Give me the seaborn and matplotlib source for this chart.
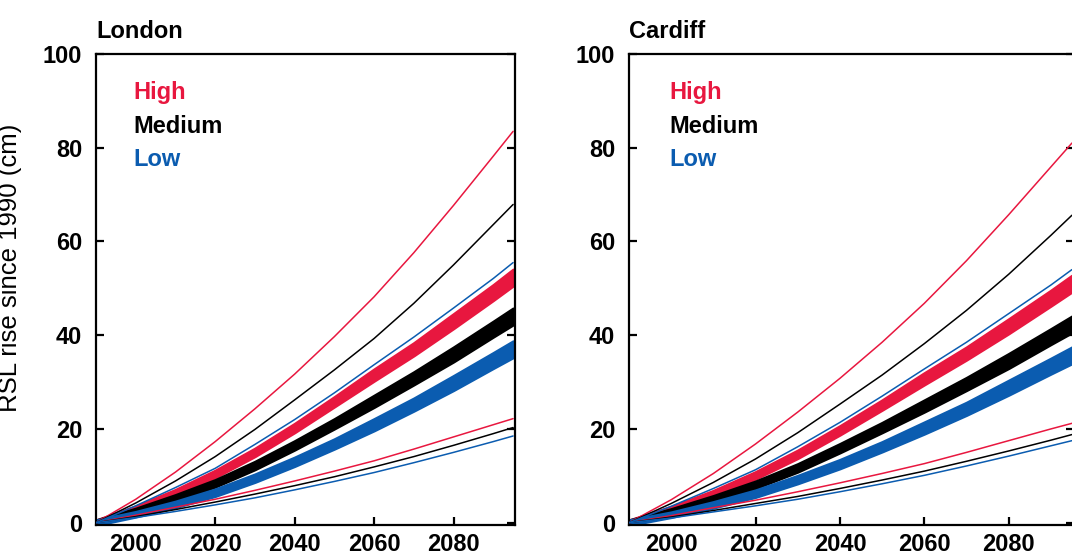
import matplotlib
matplotlib.use('Agg')
import matplotlib.pyplot as plt
import seaborn as sns

years = [1990, 2000, 2010, 2020, 2030, 2040, 2050, 2060, 2070, 2080, 2090, 2095]
# half width (cm) of the thick central bands
band_half = [0.5, 0.5, 0.6, 0.7, 0.8, 0.9, 1.0, 1.2, 1.3, 1.5, 1.6, 1.7]

# London
london_high_upper = [0, 5.0, 10.8, 17.3, 24.3, 31.7, 39.7, 48.2, 57.6, 67.7, 78.2, 83.5]
london_med_upper = [0, 4.2, 8.9, 14.1, 19.9, 26.2, 32.6, 39.3, 46.8, 55.0, 63.6, 67.9]
london_low_upper = [0, 3.6, 7.5, 11.6, 16.7, 22.0, 27.7, 33.7, 39.6, 45.8, 52.1, 55.5]
london_high_mid = [0, 3.0, 6.4, 10.4, 15.0, 20.2, 25.8, 31.5, 37.0, 43.0, 49.1, 52.3]
london_med_mid = [0, 2.5, 5.3, 8.4, 12.2, 16.5, 21.1, 25.9, 30.8, 35.9, 41.3, 44.0]
london_low_mid = [0, 1.8, 3.9, 6.4, 9.5, 13.0, 16.8, 20.9, 25.2, 29.8, 34.6, 37.0]
london_high_lower = [0, 1.6, 3.3, 5.0, 6.9, 8.9, 11.0, 13.2, 15.7, 18.3, 20.9, 22.2]
london_med_lower = [0, 1.3, 2.8, 4.4, 6.1, 7.9, 9.8, 11.9, 14.1, 16.5, 19.0, 20.3]
london_low_lower = [0, 1.1, 2.4, 3.8, 5.3, 7.0, 8.8, 10.7, 12.8, 15.0, 17.3, 18.5]

# Cardiff
cardiff_high_upper = [0, 4.9, 10.5, 16.8, 23.6, 30.8, 38.5, 46.8, 55.9, 65.7, 75.9, 81.0]
cardiff_med_upper = [0, 4.1, 8.6, 13.6, 19.2, 25.3, 31.5, 38.2, 45.3, 53.0, 61.3, 65.6]
cardiff_low_upper = [0, 3.5, 7.3, 11.3, 16.2, 21.4, 27.0, 32.8, 38.5, 44.6, 50.7, 54.0]
cardiff_high_mid = [0, 2.9, 6.2, 10.1, 14.6, 19.7, 25.1, 30.7, 36.1, 41.9, 47.9, 51.0]
cardiff_med_mid = [0, 2.4, 5.1, 8.1, 11.7, 15.9, 20.3, 24.9, 29.6, 34.5, 39.7, 42.3]
cardiff_low_mid = [0, 1.7, 3.8, 6.2, 9.2, 12.5, 16.2, 20.2, 24.3, 28.8, 33.4, 35.7]
cardiff_high_lower = [0, 1.5, 3.2, 4.8, 6.6, 8.5, 10.5, 12.6, 15.0, 17.5, 20.0, 21.2]
cardiff_med_lower = [0, 1.2, 2.6, 4.1, 5.6, 7.3, 9.1, 11.0, 13.1, 15.3, 17.6, 18.8]
cardiff_low_lower = [0, 1.0, 2.3, 3.6, 5.0, 6.6, 8.3, 10.1, 12.1, 14.2, 16.4, 17.5]

scenarios = ['High', 'Medium', 'Low']
colors = {'High': '#e8173f', 'Medium': '#000000', 'Low': '#0b5cb0'}
xticks = [2000, 2020, 2040, 2060, 2080]
yticks = [0, 20, 40, 60, 80, 100]

sns.set_style('white')
plt.rcParams['font.family'] = ['Liberation Sans', 'DejaVu Sans']
plt.rcParams['text.color'] = 'black'
plt.rcParams['axes.labelcolor'] = 'black'


def draw_panel(ax, city, upper, mid, lower, show_ylabel=False):
    # thick central bands
    for sc in scenarios:
        lo = [m - h for m, h in zip(mid[sc], band_half)]
        hi = [m + h for m, h in zip(mid[sc], band_half)]
        ax.fill_between(years, lo, hi, color=colors[sc], lw=2.2, edgecolor=colors[sc], zorder=2)
    # thin upper / lower lines
    for sc in scenarios:
        sns.lineplot(x=years, y=upper[sc], ax=ax, color=colors[sc], lw=1.1, zorder=3)
        sns.lineplot(x=years, y=lower[sc], ax=ax, color=colors[sc], lw=1.1, zorder=3)

    ax.set_xlim(1990, 2095.5)
    ax.set_ylim(-0.5, 100)
    ax.set_xticks(xticks)
    ax.set_yticks(yticks)
    ax.tick_params(axis='both', direction='in', length=6, width=1.6,
                   labelsize=17, pad=9, colors='black')
    ax.tick_params(axis='y', right=True, left=True, pad=10)
    ax.tick_params(axis='x', bottom=True, top=False, pad=6)
    ax.xaxis.get_major_ticks()[0].tick1line.set_visible(False)
    for lab in ax.get_xticklabels() + ax.get_yticklabels():
        lab.set_fontweight('bold')
    for sp in ax.spines.values():
        sp.set_linewidth(1.6)
        sp.set_color('black')

    ax.text(0.0, 1.034, city, transform=ax.transAxes, fontsize=17,
            fontweight='bold', ha='left', va='baseline')
    for i, sc in enumerate(scenarios):
        ax.text(0.09, 0.904 - i * 0.071, sc, transform=ax.transAxes, fontsize=17,
                fontweight='bold', color=colors[sc], ha='left', va='baseline')

    if show_ylabel:
        ax.set_ylabel('RSL rise since 1990 (cm)', fontsize=18.5)
        ax.yaxis.set_label_coords(-0.177, 0.546)
    else:
        ax.set_ylabel('')
    ax.set_xlabel('')


fig = plt.figure(figsize=(10.72, 5.54), dpi=100)
ax1 = fig.add_axes([0.0896, 0.0523, 0.3909, 0.8502])
ax2 = fig.add_axes([0.5868, 0.0523, 0.4151, 0.8502])

draw_panel(ax1, 'London',
           {'High': london_high_upper, 'Medium': london_med_upper, 'Low': london_low_upper},
           {'High': london_high_mid, 'Medium': london_med_mid, 'Low': london_low_mid},
           {'High': london_high_lower, 'Medium': london_med_lower, 'Low': london_low_lower},
           show_ylabel=True)
draw_panel(ax2, 'Cardiff',
           {'High': cardiff_high_upper, 'Medium': cardiff_med_upper, 'Low': cardiff_low_upper},
           {'High': cardiff_high_mid, 'Medium': cardiff_med_mid, 'Low': cardiff_low_mid},
           {'High': cardiff_high_lower, 'Medium': cardiff_med_lower, 'Low': cardiff_low_lower})

fig.savefig('out.png', dpi=100)
